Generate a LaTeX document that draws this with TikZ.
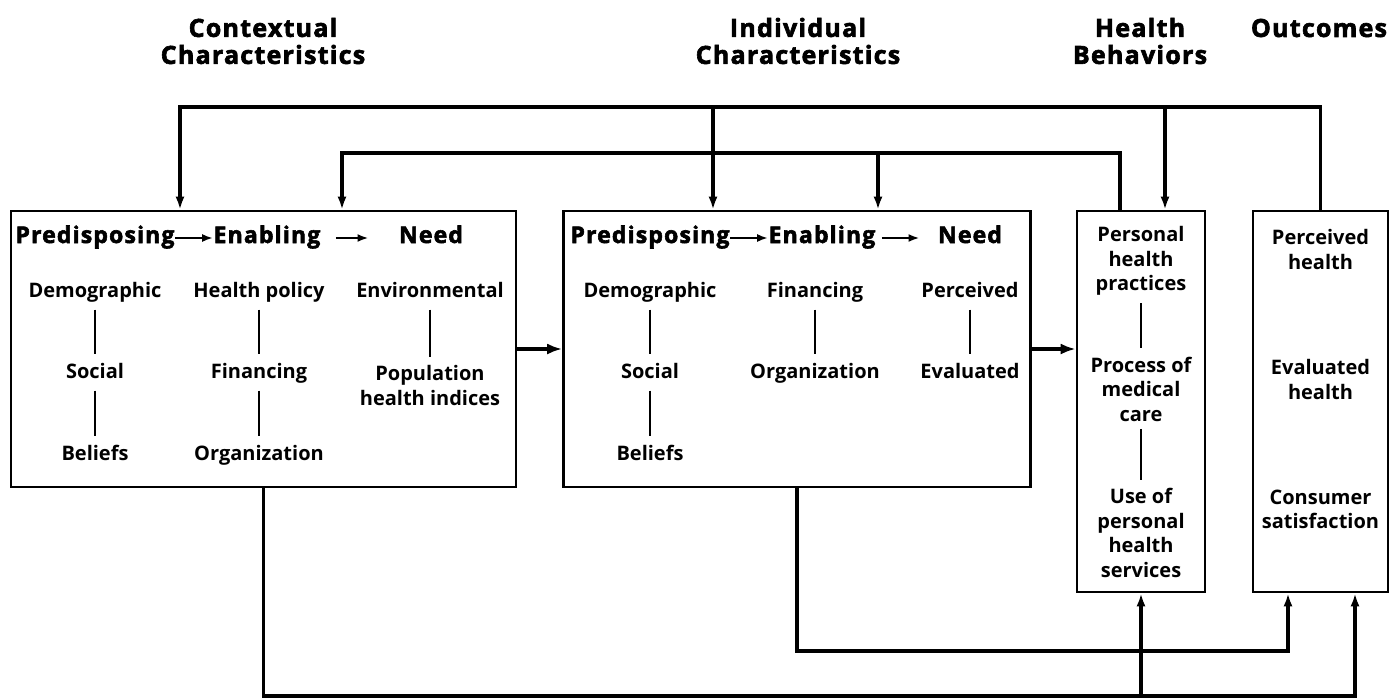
\documentclass[tikz,border=0pt]{standalone}
\usepackage{fontspec}
\setmainfont{Open Sans}
\newfontfamily\heavyfont{Open Sans}[LetterSpace=5,BoldFeatures={FakeBold=2.5}]
\usetikzlibrary{arrows.meta}

\begin{document}
\begin{tikzpicture}[x=1pt,y=-1pt,
	box/.style={draw,line width=2.6pt,inner sep=0pt},
	title/.style={font=\fontsize{25}{27}\heavyfont\bfseries,align=center},
	head/.style={font=\fontsize{23}{24}\heavyfont\bfseries,text height=15pt,text depth=5pt},
	item/.style={font=\fontsize{20}{24.5}\selectfont\bfseries,text height=15pt,text depth=5pt},
	items/.style={font=\fontsize{20}{24.5}\selectfont\bfseries,align=center},
	bar/.style={line width=2.6pt,shorten <=4pt,shorten >=5pt},
	hdarrow/.style={line width=2.6pt,-{Latex[length=11pt,width=8pt]}},
	fb/.style={line width=3.2pt,line join=miter},
	link/.style={fb,-{Latex[length=13pt,width=9pt]}},
	flow/.style={line width=4.4pt,-{Latex[length=15pt,width=11pt]}}]
	\useasboundingbox (0,0) rectangle (1395,698);

	% titles
	\node[title] (tctx) at (263,41) {Contextual\\Characteristics};
	\node[title] (tind) at (798,41) {Individual\\Characteristics};
	\node[title] (tbeh) at (1140,41) {Health\\Behaviors};
	\node[title] (tout) at (1319,28) {Outcomes};

	% the four boxes
	\node[box,minimum width=505pt,minimum height=276pt] (ctx) at (263.5,349) {};
	\node[box,minimum width=467pt,minimum height=276pt] (ind) at (797,349) {};
	\node[box,minimum width=128pt,minimum height=381pt] (beh) at (1141,401.5) {};
	\node[box,minimum width=135pt,minimum height=381pt] (out) at (1320.5,401.5) {};

	% contextual
	\node[head] (pre1) at (95,238) {Predisposing};
	\node[head] (ena1) at (267,238) {Enabling};
	\node[head] (need1) at (431,238) {Need};
	\draw[hdarrow,shorten <=-3pt,shorten >=-3pt] (pre1) -- (ena1);
	\draw[hdarrow,shorten <=12pt,shorten >=27pt] (ena1) -- (need1);
	\node[item] (dem1) at (95,292) {Demographic};
	\node[item] (soc1) at (95,373) {Social};
	\node[item] (bel1) at (95,455) {Beliefs};
	\node[item] (pol1) at (259,292) {Health policy};
	\node[item] (fin1) at (259,373) {Financing};
	\node[item] (org1) at (259,455) {Organization};
	\node[item] (env1) at (430,292) {Environmental};
	\node[items] (pop1) at (430,385.5) {Population\\health indices};
	\draw[bar] (dem1) -- (soc1);
	\draw[bar] (soc1) -- (bel1);
	\draw[bar] (pol1) -- (fin1);
	\draw[bar] (fin1) -- (org1);
	\draw[bar] (env1) -- (pop1);

	% individual
	\node[head] (pre2) at (650,238) {Predisposing};
	\node[head] (ena2) at (822,238) {Enabling};
	\node[head] (need2) at (970,238) {Need};
	\draw[hdarrow,shorten <=-3pt,shorten >=-3pt] (pre2) -- (ena2);
	\draw[hdarrow,shorten <=3pt,shorten >=15pt] (ena2) -- (need2);
	\node[item] (dem2) at (650,292) {Demographic};
	\node[item] (soc2) at (650,373) {Social};
	\node[item] (bel2) at (650,455) {Beliefs};
	\node[item] (fin2) at (815,292) {Financing};
	\node[item] (org2) at (815,373) {Organization};
	\node[item] (per2) at (970,292) {Perceived};
	\node[item] (eva2) at (970,373) {Evaluated};
	\draw[bar] (dem2) -- (soc2);
	\draw[bar] (soc2) -- (bel2);
	\draw[bar] (fin2) -- (org2);
	\draw[bar] (per2) -- (eva2);

	% health behaviors
	\node[items] (php) at (1141,261) {Personal\\health\\practices};
	\node[items] (pmc) at (1141,389) {Process of\\medical\\care};
	\node[items] (use) at (1141,533) {Use of\\personal\\health\\services};
	\draw[bar] (php) -- (pmc);
	\draw[bar] (pmc) -- (use);

	% outcomes
	\node[items] (ph) at (1320.5,249.5) {Perceived\\health};
	\node[items] (eh) at (1320.5,379.5) {Evaluated\\health};
	\node[items] (cs) at (1320.5,509.5) {Consumer\\satisfaction};

	% flow between boxes
	\draw[flow] (ctx) -- (ind);
	\draw[flow] (ind.east) -- (ind.east -| beh.west);

	% feedback lines
	\coordinate (d1) at (180,107);
	\coordinate (d2) at (713,107);
	\coordinate (d3) at (1165,107);
	\coordinate (s2) at (1120,153);
	\coordinate (d4) at (342,153);
	\coordinate (d5) at (878,153);
	\coordinate (br) at (1355,696);
	\coordinate (mr) at (1288,651);
	\draw[link] (out.north) |- (d1) -- (d1 |- ctx.north);
	\draw[link] (d2) -- (d2 |- ind.north);
	\draw[link] (d3) -- (d3 |- beh.north);
	\draw[link] (beh.north -| s2) |- (d4) -- (d4 |- ctx.north);
	\draw[link] (d5) -- (d5 |- ind.north);
	\draw[link] (ctx.south) |- (br) -- (br |- out.south);
	\draw[link] (beh.south |- br) -- (beh.south);
	\draw[link] (ind.south) |- (mr) -- (mr |- out.south);
\end{tikzpicture}
\end{document}
